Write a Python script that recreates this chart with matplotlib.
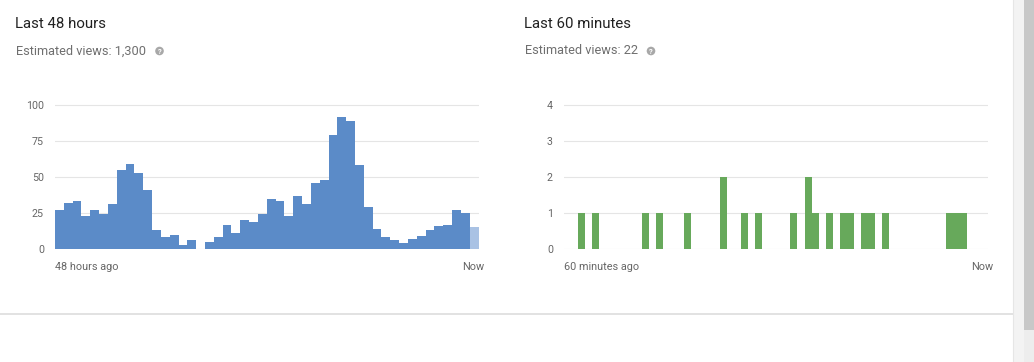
import numpy as np
import matplotlib
matplotlib.use("Agg")
import matplotlib.pyplot as plt
from matplotlib.patches import Rectangle, Circle

plt.rcParams['font.family'] = ['Roboto', 'DejaVu Sans']

# views per hour, last 48 hours (last hour is still in progress)
hour_views = [27, 32, 33, 23, 27, 24, 31, 55, 59, 53, 41, 13, 8, 10, 3, 6,
              0, 5, 8, 17, 11, 20, 19, 24, 35, 33, 23, 37, 31, 46, 48, 79,
              92, 89, 58, 29, 14, 8, 6, 4, 7, 9, 13, 16, 17, 27, 25, 15]
hour_ticks = [0, 25, 50, 75, 100]

# views per minute, last 60 minutes
minute_views = [0, 0, 1, 0, 1, 0, 0, 0, 0, 0,
                0, 1, 0, 1, 0, 0, 0, 1, 0, 0,
                0, 0, 2, 0, 0, 1, 0, 1, 0, 0,
                0, 0, 1, 0, 2, 1, 0, 1, 0, 1,
                1, 0, 1, 1, 0, 1, 0, 0, 0, 0,
                0, 0, 0, 0, 1, 1, 1, 0, 0, 0]
minute_ticks = [0, 1, 2, 3, 4]

titles = ["Last 48 hours", "Last 60 minutes"]
subtitles = ["Estimated views: 1,300", "Estimated views: 22"]
start_labels = ["48 hours ago", "60 minutes ago"]

W, H = 1034, 362
BLUE = "#5b8bc8"
BLUE_LIGHT = "#a9c2e4"
GREEN = "#67a95b"
GRID = "#e5e5e5"
TICK = "#666666"

fig = plt.figure(figsize=(W / 100, H / 100), dpi=100)

# background layer in pixel coordinates for text and decorations
bg = fig.add_axes([0, 0, 1, 1])
bg.set_xlim(0, W)
bg.set_ylim(H, 0)
bg.axis('off')


def chart(x0, x1, y0, ymax, values, colors, ticks):
    # y0 = pixel row of zero line, top gridline at y=105
    px_per_unit = (y0 - 105) / ymax
    top = ymax * 1.05
    height = top * px_per_unit
    ax = fig.add_axes([x0 / W, (H - y0) / H, (x1 - x0) / W, height / H])
    ax.bar(np.arange(len(values)), values, width=1.0, align='edge',
           color=colors, linewidth=0, zorder=2)
    ax.set_xlim(0, len(values))
    ax.set_ylim(0, top)
    ax.set_yticks(ticks)
    ax.set_yticklabels([str(t) for t in ticks])
    ax.tick_params(axis='y', length=0, pad=8, labelsize=7.7, labelcolor=TICK)
    ax.set_xticks([])
    for t in ticks:
        ax.axhline(t, color=GRID, lw=0.8, zorder=1)
    for s in ax.spines.values():
        s.set_visible(False)
    ax.patch.set_alpha(0)
    return ax


hour_colors = [BLUE] * (len(hour_views) - 1) + [BLUE_LIGHT]
chart(55, 478.5, 249, 100, hour_views, hour_colors, hour_ticks)
chart(564, 988.5, 249, 4, minute_views, GREEN, minute_ticks)

# headers and axis end labels
panels = [(15, 55, 159.5, 484), (524, 564, 651, 993)]
for i, (x, lab_x, icon_x, now_x) in enumerate(panels):
    bg.text(x, 24, titles[i], fontsize=10.8, color="#212121", va='center', ha='left')
    bg.text(x + 1, 51, subtitles[i], fontsize=9.2, color="#6f6f6f", va='center', ha='left')
    bg.add_patch(Circle((icon_x, 51), 4.3, color="#a8a8a8", lw=0))
    bg.text(icon_x, 51.3, "?", fontsize=5.5, color="white", fontweight='bold',
            ha='center', va='center')
    bg.text(lab_x, 267, start_labels[i], fontsize=7.8, color=TICK, va='center', ha='left')
    bg.text(now_x, 267, "Now", fontsize=7.8, color=TICK, va='center', ha='right')

# divider and scrollbar
bg.plot([0, 1013], [314, 314], color="#dddddd", lw=1.2)
bg.add_patch(Rectangle((1013, 0), 11, H, color="#f3f3f3", lw=0))
bg.plot([1013, 1013], [0, H], color="#e6e6e6", lw=0.8)
bg.add_patch(Rectangle((1024, 0), 10, 330, color="#c8c8c8", lw=0))
bg.add_patch(Rectangle((1024, 330), 10, H - 330, color="#ededed", lw=0))

fig.savefig("out.png", dpi=100, facecolor="white")
